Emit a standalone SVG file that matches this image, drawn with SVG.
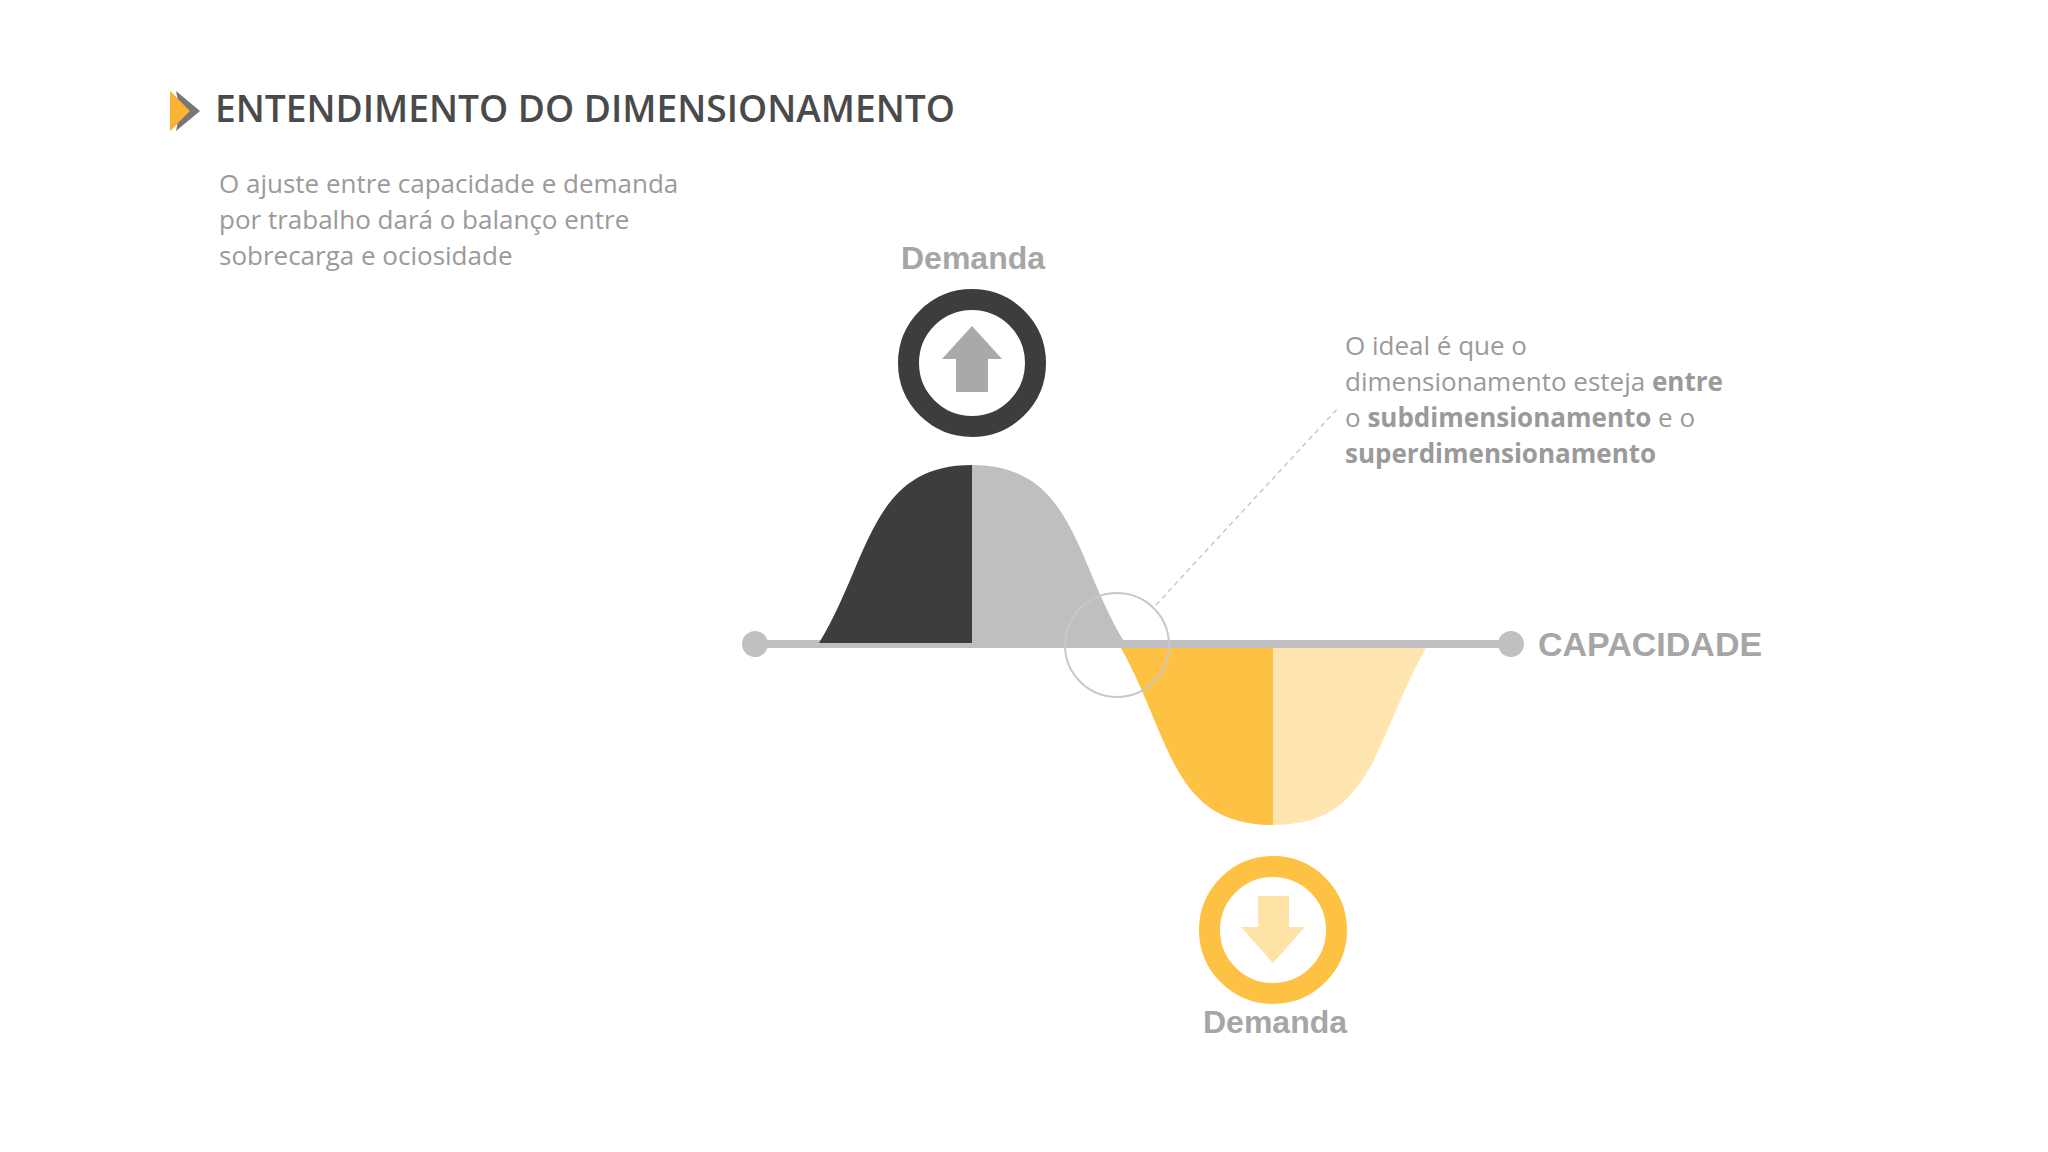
<svg xmlns="http://www.w3.org/2000/svg" width="2048" height="1152" viewBox="0 0 2048 1152">
<style>
.t{font-family:"Open Sans","Liberation Sans",sans-serif;fill:#9a9a9a;font-size:26px}
.b{font-weight:700}
.h{font-family:"Liberation Sans",Arial,sans-serif;font-weight:700;fill:#a6a6a6}
</style>
<rect width="2048" height="1152" fill="#fff"/>
<g id="title">
<polygon points="170,91 190,111 170,131" fill="#f9b233"/>
<polygon points="176,91 200,111 176,131 180,111" fill="#555" opacity="0.8"/>
<polygon points="170,91 190,111 170,131" fill="#f9b233"/>
<text x="215" y="122" font-family="Open Sans, Liberation Sans, sans-serif" font-weight="600" font-size="37" fill="#4a4a4a" textLength="740" lengthAdjust="spacingAndGlyphs">ENTENDIMENTO DO DIMENSIONAMENTO</text>
</g>
<g id="intro" class="t">
<text class="t" x="219" y="193">O ajuste entre capacidade e demanda</text>
<text class="t" x="219" y="229">por trabalho dará o balanço entre</text>
<text class="t" x="219" y="265">sobrecarga e ociosidade</text>
</g>
<g id="capacity">
<line x1="755" y1="644" x2="1511" y2="644" stroke="#c0c0c2" stroke-width="8"/>
<circle cx="755" cy="644" r="13" fill="#c0c0c2"/>
<circle cx="1511" cy="644" r="13" fill="#c0c0c2"/>
<text class="h" x="1538" y="656" font-size="34">CAPACIDADE</text>
</g>
<g id="bell-up">
<path d="M819 643 C870 560 870 465 972 465 V643 Z" fill="#3d3d3f"/>
<path d="M1125 643 C1074 560 1074 465 972 465 V643 Z" fill="#bfbfc1"/>
</g>
<g id="bell-down">
<path d="M1121 648 C1172 740 1172 825 1273 825 V648 Z" fill="#fdc243"/>
<path d="M1426 648 C1374 740 1374 825 1273 825 V648 Z" fill="#ffe5b0"/>
</g>
<g id="demanda-up">
<text class="h" x="973" y="269" font-size="32" text-anchor="middle">Demanda</text>
<circle cx="972" cy="363" r="63.5" fill="none" stroke="#3d3d3f" stroke-width="21"/>
<polygon points="972,326 1002,359 988,359 988,392 956,392 956,359 942,359" fill="#a9a9ab"/>
</g>
<g id="demanda-down">
<circle cx="1273" cy="930" r="63.5" fill="none" stroke="#fdc243" stroke-width="21"/>
<polygon points="1258,896 1289,896 1289,927 1305,927 1273,963 1241,927 1258,927" fill="#ffe3a6"/>
<text class="h" x="1275" y="1033" font-size="32" text-anchor="middle">Demanda</text>
</g>
<g id="connectors">
<circle cx="1117" cy="645" r="52" fill="none" stroke="#c8c8c8" stroke-width="2"/>
<line x1="1156" y1="605" x2="1339" y2="407" stroke="#c8c8c8" stroke-width="1.5" stroke-dasharray="5,4"/>
</g>
<g id="note" class="t">
<text class="t" x="1345" y="355">O ideal é que o</text>
<text class="t" x="1345" y="391">dimensionamento esteja <tspan class="b">entre</tspan></text>
<text class="t" x="1345" y="427">o <tspan class="b">subdimensionamento</tspan> e o</text>
<text class="t" x="1345" y="463"><tspan class="b">superdimensionamento</tspan></text>
</g>
</svg>
